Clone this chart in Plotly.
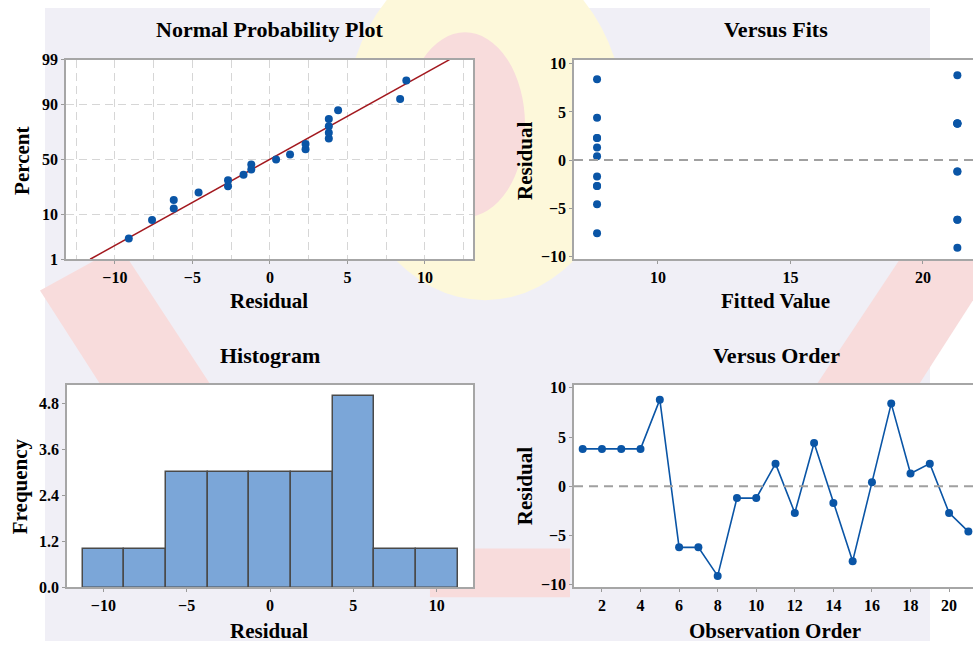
import plotly.graph_objects as go
from statistics import NormalDist, mean, stdev

# ---- data -------------------------------------------------------------
observation = [1, 2, 3, 4, 5, 6, 7, 8, 9, 10, 11,
               12, 13, 14, 15, 16, 17, 18, 19, 20, 21]
residuals = [3.8, 3.8, 3.8, 3.8, 8.8, -6.2, -6.2, -9.1, -1.2, -1.2, 2.3,
             -2.7, 4.4, -1.7, -7.6, 0.4, 8.4, 1.3, 2.3, -2.7, -4.6]
fitted = [21.3, 21.3, 21.3, 21.3, 21.3, 21.3, 21.3, 21.3, 21.3, 21.3, 7.7,
          7.7, 7.7, 7.7, 7.7, 7.7, 7.7, 7.7, 7.7, 7.7, 7.7]
percent_ticks = [1, 10, 50, 90, 99]
freq_ticks = [0.0, 1.2, 2.4, 3.6, 4.8]
bin_start, bin_end, bin_size = -11.25, 11.25, 2.5

# ---- styling ----------------------------------------------------------
W, H = 973, 650
BLUE = "#0A55A6"
RED = "#A3191F"
FRAME = "#A6A6A6"
GRID = "#D6D6D6"
SERIF = "Liberation Serif"
TICK_FONT = dict(family=SERIF, size=16, color="black", weight="bold")
TITLE_FONT = dict(family=SERIF, size=22, color="black", weight="bold")
LABEL_FONT = dict(family=SERIF, size=21, color="black", weight="bold")


def fx(x):
    return x / W


def fy(y):
    return 1 - y / H


# panel boxes in pixels: (left, right, top, bottom)
P_NPP = (66, 473, 53, 258)
P_FIT = (574, 973, 53, 258)
P_HIST = (67, 473, 387, 595)
P_ORD = (574, 973, 387, 595)

# ---- normal probability positions (median ranks) ----------------------
nd = NormalDist()
srt = sorted(residuals)
n = len(srt)
npp_z = [nd.inv_cdf((i + 1 - 0.3) / (n + 0.4)) for i in range(n)]
mu, sd = mean(residuals), stdev(residuals)
z_lo, z_hi = nd.inv_cdf(percent_ticks[0] / 100), nd.inv_cdf(percent_ticks[-1] / 100)
line_z = [z_lo, z_hi]
line_x = [mu + z * sd for z in line_z]

fig = go.Figure()

fig.add_trace(go.Scatter(x=line_x, y=line_z, mode="lines",
                         line=dict(color=RED, width=1.5),
                         xaxis="x", yaxis="y", hoverinfo="skip"))
fig.add_trace(go.Scatter(x=srt, y=npp_z, mode="markers",
                         marker=dict(color=BLUE, size=8),
                         xaxis="x", yaxis="y"))

fig.add_trace(go.Scatter(x=fitted, y=residuals, mode="markers",
                         marker=dict(color=BLUE, size=8),
                         xaxis="x2", yaxis="y2"))

fig.add_trace(go.Histogram(x=residuals,
                           xbins=dict(start=bin_start, end=bin_end, size=bin_size),
                           marker=dict(color="#7BA6D8",
                                       line=dict(color="#4A4A4A", width=1.5)),
                           xaxis="x3", yaxis="y3"))

fig.add_trace(go.Scatter(x=observation, y=residuals, mode="lines+markers",
                         line=dict(color=BLUE, width=1.6),
                         marker=dict(color=BLUE, size=8),
                         xaxis="x4", yaxis="y4", cliponaxis=False))


def axis(box, horiz, rng, **kw):
    l, r, t, b = box
    dom = [fx(l), fx(r)] if horiz else [fy(b), fy(t)]
    base = dict(domain=dom, range=rng, showline=True, linecolor=FRAME,
                linewidth=1.5, ticks="outside", ticklen=3, tickwidth=1,
                tickcolor="#9A9A9A", tickfont=TICK_FONT, zeroline=False,
                showgrid=False, fixedrange=True)
    base.update(kw)
    return base


layout_axes = dict(
    xaxis=axis(P_NPP, True, [-13.15, 13.1], anchor="y", mirror=True,
               tickmode="linear", tick0=0, dtick=5, showgrid=True,
               gridcolor=GRID, griddash="8px,5px", gridwidth=1,
               minor=dict(dtick=2.5, tick0=0, showgrid=True, gridcolor=GRID,
                          griddash="8px,5px", gridwidth=1, ticks="")),
    yaxis=axis(P_NPP, False, [z_lo, z_hi], anchor="x", mirror=True,
               tickmode="array",
               tickvals=[nd.inv_cdf(p / 100) for p in percent_ticks],
               ticktext=[str(p) for p in percent_ticks],
               showgrid=True, gridcolor=GRID, griddash="8px,5px", gridwidth=1),
    xaxis2=axis(P_FIT, True, [6.83, 21.89], anchor="y2", mirror=True,
                tickmode="linear", tick0=0, dtick=5),
    yaxis2=axis(P_FIT, False, [-10.3, 10.43], anchor="x2",
                tickmode="linear", tick0=0, dtick=5),
    xaxis3=axis(P_HIST, True, [-12.18, 12.18], anchor="y3", mirror=True,
                tickmode="linear", tick0=0, dtick=5),
    yaxis3=axis(P_HIST, False, [0, 5.28], anchor="x3", mirror=True,
                tickmode="array", tickvals=freq_ticks,
                ticktext=[f"{v:.1f}" for v in freq_ticks]),
    xaxis4=axis(P_ORD, True, [0.55, 21.24], anchor="y4", mirror=True,
                tickmode="linear", tick0=0, dtick=2),
    yaxis4=axis(P_ORD, False, [-10.27, 10.3], anchor="x4",
                tickmode="linear", tick0=0, dtick=5),
)

# ---- faint crest watermark behind the panels ---------------------------
def poly(points):
    return "M " + " L ".join(f"{fx(x):.4f},{fy(y):.4f}" for x, y in points) + " Z"


def ellipse(cx, cy, rx, ry, color):
    return dict(type="circle", xref="paper", yref="paper",
                x0=fx(cx - rx), x1=fx(cx + rx), y0=fy(cy + ry), y1=fy(cy - ry),
                fillcolor=color, line=dict(width=0), layer="below")


def polygon(points, color):
    return dict(type="path", xref="paper", yref="paper", path=poly(points),
                fillcolor=color, line=dict(width=0), layer="below")


LAV = "#F0EFF6"
PINK = "#F8DCDC"
YEL = "#FDF8DA"
shapes = [
    polygon([(45, 0), (930, 0), (930, 650), (45, 650)], LAV),
    ellipse(485, 120, 140, 180, YEL),
    ellipse(465, 120, 60, 95, PINK),
    polygon([(40, 290), (120, 245), (270, 480), (190, 530)], PINK),
    polygon([(795, 420), (870, 465), (973, 300), (973, 250), (905, 250)], PINK),
    polygon([(430, 555), (570, 555), (570, 605), (430, 605)], PINK),
]
# white plotting areas on top of the crest
for l, r, t, b in (P_NPP, P_FIT, P_HIST, P_ORD):
    shapes.append(polygon([(l, t), (r, t), (r, b), (l, b)], "white"))

for ref in ("y2", "y4"):
    shapes.append(dict(type="line", xref=f"x{ref[1]} domain", yref=ref,
                       x0=0, x1=1, y0=0, y1=0,
                       line=dict(color="#A0A0A0", width=2, dash="9px,6px")))


def text(s, x, y, font, angle=0):
    return dict(text=s, x=fx(x), y=fy(y), xref="paper", yref="paper",
                showarrow=False, font=font, textangle=angle,
                xanchor="center", yanchor="middle")


annotations = [
    text("Normal Probability Plot", 270, 22, TITLE_FONT),
    text("Versus Fits", 776, 22, TITLE_FONT),
    text("Histogram", 270, 357, TITLE_FONT),
    text("Versus Order", 776, 357, TITLE_FONT),
    text("Residual", 269, 301, LABEL_FONT),
    text("Fitted Value", 775, 301, LABEL_FONT),
    text("Residual", 269, 640, LABEL_FONT),
    text("Observation Order", 775, 640, LABEL_FONT),
    text("Percent", 22, 157, LABEL_FONT, -90),
    text("Residual", 525, 157, LABEL_FONT, -90),
    text("Frequency", 20, 491, LABEL_FONT, -90),
    text("Residual", 525, 491, LABEL_FONT, -90),
]

fig.update_layout(
    width=W, height=H, margin=dict(l=0, r=0, t=0, b=0),
    paper_bgcolor="white", plot_bgcolor="rgba(0,0,0,0)",
    showlegend=False, bargap=0, shapes=shapes, annotations=annotations,
    **layout_axes,
)

fig.write_html("out.html", config=dict(displayModeBar=False))
